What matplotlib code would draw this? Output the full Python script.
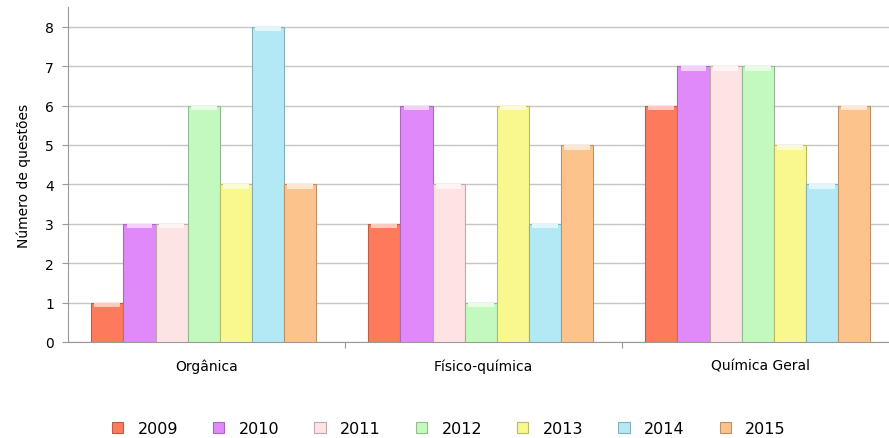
import numpy as np
import matplotlib.pyplot as plt
from matplotlib.colors import to_rgb

# Questions per area and year
categories = ["Orgânica", "Físico-química", "Química Geral"]
years = ["2009", "2010", "2011", "2012", "2013", "2014", "2015"]
counts_2009 = [1, 3, 6]
counts_2010 = [3, 6, 7]
counts_2011 = [3, 4, 7]
counts_2012 = [6, 1, 7]
counts_2013 = [4, 6, 5]
counts_2014 = [8, 3, 4]
counts_2015 = [4, 5, 6]
series = [counts_2009, counts_2010, counts_2011, counts_2012,
          counts_2013, counts_2014, counts_2015]

colors = ["#fd7b5c", "#e08af9", "#fde3e3", "#c3f9bf",
          "#f8f88e", "#b3e9f5", "#fcc38c"]


def darker(c, f=0.75):
    r, g, b = to_rgb(c)
    return (r * f, g * f, b * f)


def lighter(c, f=0.6):
    r, g, b = to_rgb(c)
    return (r + (1 - r) * f, g + (1 - g) * f, b + (1 - b) * f)


fig = plt.figure(figsize=(8.89, 4.39), dpi=100)
ax = fig.add_axes([0.0765, 0.2187, 0.9235, 0.7631])

x = np.arange(len(categories))
width = 0.116
for i, (vals, col) in enumerate(zip(series, colors)):
    pos = x + (i - 3) * width - 0.01
    ax.bar(pos, vals, width=width, color=col, edgecolor=darker(col),
           linewidth=0.8, label=years[i], zorder=3)
    # soft highlight at the top of each bar
    ax.bar(pos, [0.12] * len(vals), bottom=np.array(vals) - 0.12,
           width=width * 0.8, color=lighter(col), linewidth=0, zorder=4)

ax.set_xlim(-0.5, 2.464)
ax.set_ylim(0, 8.5)
ax.set_yticks(range(0, 9))
ax.tick_params(axis="y", labelsize=10, length=4, color="#999999", pad=6)

ax.set_xticks([0.5, 1.5])
ax.set_xticklabels([])
ax.set_xticks(x, minor=True)
ax.set_xticklabels(categories, minor=True, fontsize=10)
ax.tick_params(axis="x", which="major", length=4, color="#999999")
ax.tick_params(axis="x", which="minor", length=0, pad=12)

ax.grid(axis="y", color="#c6c6c6", linewidth=1, zorder=0)
for side in ["top", "right"]:
    ax.spines[side].set_visible(False)
for side in ["left", "bottom"]:
    ax.spines[side].set_color("#999999")

ax.set_ylabel("Número de questões", fontsize=10, labelpad=10)

fig.legend(loc="center", bbox_to_anchor=(0.505, 0.022), ncol=7, frameon=False,
           fontsize=11.5, handlelength=0.7, handleheight=0.7,
           columnspacing=2.2, handletextpad=0.9)

fig.savefig("out.png", dpi=100)
